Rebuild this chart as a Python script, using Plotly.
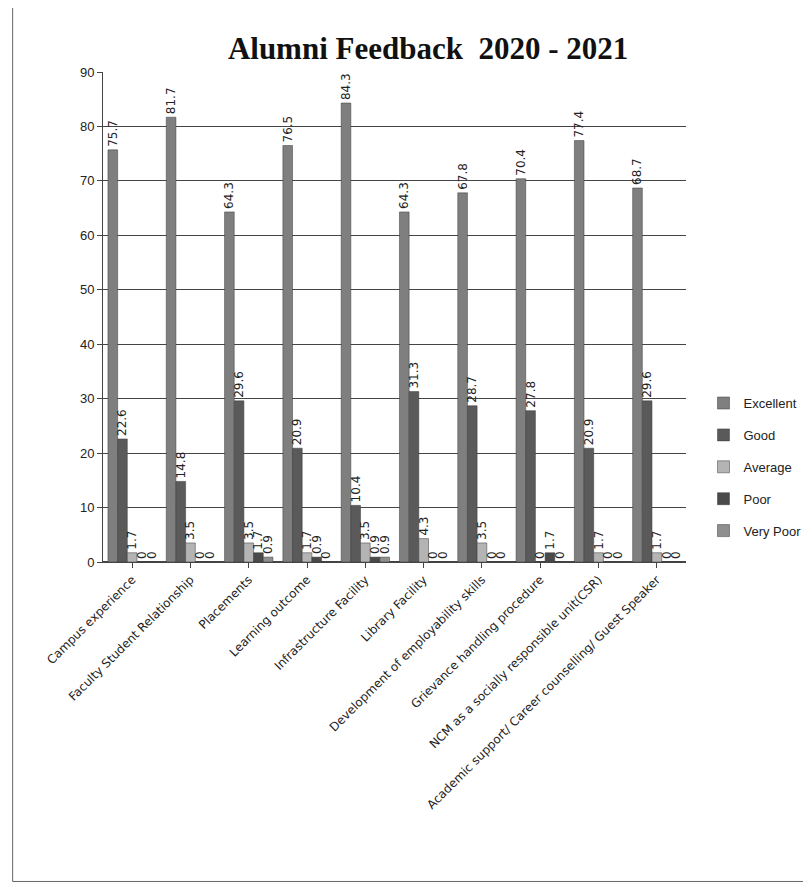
import plotly.graph_objects as go

categories = ["Campus experience", "Faculty Student Relationship", "Placements", "Learning outcome",
              "Infrastructure Facility", "Library Facility", "Development of employability skills",
              "Grievance handling procedure", "NCM as a socially responsible unit(CSR)",
              "Academic support/ Career counselling/ Guest Speaker"]
excellent = [75.7, 81.7, 64.3, 76.5, 84.3, 64.3, 67.8, 70.4, 77.4, 68.7]
good = [22.6, 14.8, 29.6, 20.9, 10.4, 31.3, 28.7, 27.8, 20.9, 29.6]
average = [1.7, 3.5, 3.5, 1.7, 3.5, 4.3, 3.5, 0, 1.7, 1.7]
poor = [0, 0, 1.7, 0.9, 0.9, 0, 0, 1.7, 0, 0]
very_poor = [0, 0, 0.9, 0, 0.9, 0, 0, 0, 0, 0]

series = [("Excellent", excellent, "#7f7f7f"), ("Good", good, "#5a5a5a"),
          ("Average", average, "#b4b4b4"), ("Poor", poor, "#4a4a4a"),
          ("Very Poor", very_poor, "#8f8f8f")]

fig = go.Figure()
for name, vals, col in series:
    fig.add_trace(go.Bar(x=categories, y=vals, name=name, legendgroup=name,
                         marker=dict(color=col, line=dict(color="#3a3a3a", width=0.5)),
                         text=[f"{v:g}" for v in vals], textposition="outside", textangle=-90,
                         constraintext="none",
                         textfont=dict(family="DejaVu Sans", size=12, color="#222"),
                         cliponaxis=False))

fig.update_layout(
    width=811, height=886,
    barmode="group", bargap=0.17, bargroupgap=0,
    paper_bgcolor="white", plot_bgcolor="white",
    margin=dict(l=95, r=121, t=64, b=332),
    title=dict(text="<b>Alumni Feedback  2020 - 2021</b>", x=0.518, xanchor="center", y=0.955, yanchor="middle",
               font=dict(family="Liberation Serif", size=31, color="#111")),
    font=dict(family="Liberation Sans", size=12, color="#222"),
    legend=dict(x=1.03, y=0.355, xanchor="left", yanchor="top", font=dict(size=13, family="Liberation Sans"),
                itemwidth=30, tracegroupgap=12, borderwidth=0),
    showlegend=True,
)
fig.update_yaxes(range=[0, 90], dtick=10, showgrid=True, gridcolor="#444", gridwidth=1,
                 showline=True, linecolor="#444", ticks="outside", ticklen=5,
                 tickfont=dict(size=13), zeroline=True, zerolinecolor="#444")
fig.update_xaxes(tickangle=-45, showline=True, linecolor="#444", ticks="outside", ticklen=5,
                 tickfont=dict(size=12, family="DejaVu Sans"))
fig.add_shape(type="rect", xref="paper", yref="paper", x0=-0.155, x1=1.3, y0=-0.652, y1=1.3,
              line=dict(color="#666", width=1), fillcolor="rgba(0,0,0,0)")

fig.write_html("out.html")
